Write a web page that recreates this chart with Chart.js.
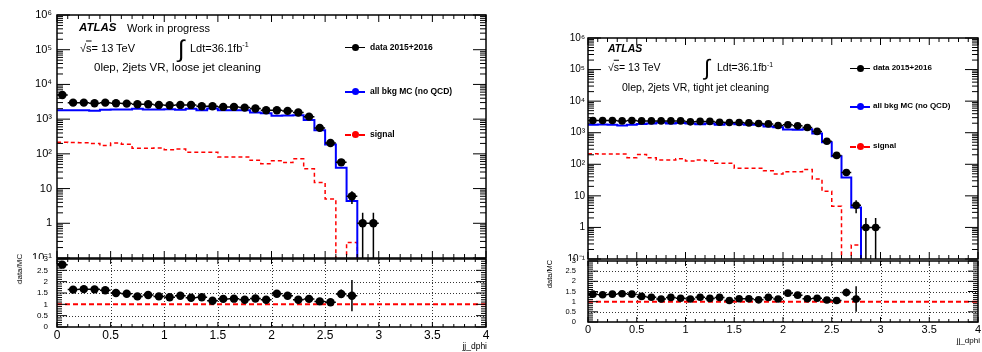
<!DOCTYPE html>
<html>
<head>
<meta charset="utf-8">
<title>jj_dphi</title>
<script src="https://cdn.jsdelivr.net/npm/chart.js@4.4.1/dist/chart.umd.min.js"></script>
<style>
  html, body { margin: 0; padding: 0; background: #fff; }
  body { position: relative; width: 982px; height: 352px; overflow: hidden; font-family: "Liberation Sans", Arial, Helvetica, sans-serif; color: #000; }
  canvas { position: absolute; left: 0; top: 0; }
  .t { position: absolute; white-space: nowrap; line-height: 1; transform: translateY(-50%); }
  .b { font-weight: bold; }
  .atlas { font-weight: bold; font-style: italic; }
  .rot { position: absolute; white-space: nowrap; line-height: 1; transform: translate(-50%, -50%) rotate(-90deg); }
  .ln { position: absolute; height: 0; }
  .dot { position: absolute; border-radius: 50%; }
  sup { font-size: 0.65em; vertical-align: 0.6em; line-height: 0; }
  .ov { text-decoration: overline; }
</style>
</head>
<body>
<canvas id="mainL" width="982" height="352"></canvas>
<canvas id="ratioL" width="982" height="352"></canvas>
<canvas id="mainR" width="982" height="352"></canvas>
<canvas id="ratioR" width="982" height="352"></canvas>

<!-- left pad: loose jet cleaning -->
<div class="t atlas" style="left:79px; top:28px; font-size:11.5px">ATLAS</div>
<div class="t" style="left:127px; top:28px; font-size:11px">Work in progress</div>
<div class="t" style="left:80px; top:48px; font-size:11px">√<span class="ov">s</span>= 13 TeV</div>
<div class="t" style="left:178px; top:49px; font-size:24px">∫</div>
<div class="t" style="left:190px; top:48px; font-size:11px">Ldt=36.1fb<sup>-1</sup></div>
<div class="t" style="left:94px; top:68px; font-size:11.5px">0lep, 2jets VR, loose jet cleaning</div>

<div class="ln" style="left:345px; top:46.5px; width:20px; border-top:1.5px solid #000"></div>
<div class="dot" style="left:351.5px; top:43.5px; width:7px; height:7px; background:#000"></div>
<div class="t b" style="left:370px; top:47px; font-size:8.5px">data 2015+2016</div>
<div class="ln" style="left:345px; top:90.5px; width:20px; border-top:2px solid #0000ff"></div>
<div class="dot" style="left:351.5px; top:87.5px; width:7px; height:7px; background:#0000ff"></div>
<div class="t b" style="left:370px; top:91px; font-size:8.5px">all bkg MC (no QCD)</div>
<div class="ln" style="left:345px; top:133.5px; width:20px; border-top:2px dashed #ff0000"></div>
<div class="dot" style="left:351.5px; top:130.5px; width:7px; height:7px; background:#ff0000"></div>
<div class="t b" style="left:370px; top:134px; font-size:8.5px">signal</div>

<div class="rot" style="left:20px; top:269px; font-size:8px">data/MC</div>
<div class="t" style="right:495px; top:346px; font-size:8.5px">jj_dphi</div>

<!-- right pad: tight jet cleaning -->
<div class="t atlas" style="left:608px; top:48px; font-size:10.5px">ATLAS</div>
<div class="t" style="left:608px; top:67px; font-size:10.5px">√<span class="ov">s</span>= 13 TeV</div>
<div class="t" style="left:704px; top:68px; font-size:22px">∫</div>
<div class="t" style="left:717px; top:67px; font-size:10.5px">Ldt=36.1fb<sup>-1</sup></div>
<div class="t" style="left:622px; top:87px; font-size:10.5px">0lep, 2jets VR, tight jet cleaning</div>

<div class="ln" style="left:850px; top:67.5px; width:20px; border-top:1.5px solid #000"></div>
<div class="dot" style="left:856.5px; top:64.5px; width:7px; height:7px; background:#000"></div>
<div class="t b" style="left:873px; top:68px; font-size:8px">data 2015+2016</div>
<div class="ln" style="left:850px; top:105.5px; width:20px; border-top:2px solid #0000ff"></div>
<div class="dot" style="left:856.5px; top:102.5px; width:7px; height:7px; background:#0000ff"></div>
<div class="t b" style="left:873px; top:106px; font-size:8px">all bkg MC (no QCD)</div>
<div class="ln" style="left:850px; top:145.5px; width:20px; border-top:2px dashed #ff0000"></div>
<div class="dot" style="left:856.5px; top:142.5px; width:7px; height:7px; background:#ff0000"></div>
<div class="t b" style="left:873px; top:146px; font-size:8px">signal</div>

<div class="rot" style="left:550px; top:274px; font-size:7.5px">data/MC</div>
<div class="t" style="right:2px; top:341px; font-size:8px">jj_dphi</div>

<script>
Chart.defaults.font.family = "'Liberation Sans', Arial, Helvetica, sans-serif";
Chart.defaults.color = '#000';

// binning of jj_dphi, 0.1 wide bins (only the first 30 are filled)
const binEdges = [0.0, 0.1, 0.2, 0.3, 0.4, 0.5, 0.6, 0.7, 0.8, 0.9, 1.0, 1.1, 1.2, 1.3, 1.4, 1.5,
                  1.6, 1.7, 1.8, 1.9, 2.0, 2.1, 2.2, 2.3, 2.4, 2.5, 2.6, 2.7, 2.8, 2.9, 3.0];
const binCenters = [0.05, 0.15, 0.25, 0.35, 0.45, 0.55, 0.65, 0.75, 0.85, 0.95, 1.05, 1.15, 1.25, 1.35, 1.45,
                    1.55, 1.65, 1.75, 1.85, 1.95, 2.05, 2.15, 2.25, 2.35, 2.45, 2.55, 2.65, 2.75, 2.85, 2.95];

const xTicks = [0, 0.5, 1, 1.5, 2, 2.5, 3, 3.5, 4];
const xTickLabels = ['0', '0.5', '1', '1.5', '2', '2.5', '3', '3.5', '4'];
const mainYTicks = [0.1, 1, 10, 100, 1000, 10000, 100000, 1000000];
const mainYTickLabels = ['10⁻¹', '1', '10', '10²', '10³', '10⁴', '10⁵', '10⁶'];
const ratioYTicks = [0, 0.5, 1, 1.5, 2, 2.5, 3];
const ratioYTickLabels = ['0', '0.5', '1', '1.5', '2', '2.5', '3'];
const ratioGridX = [0.5, 1, 1.5, 2, 2.5, 3, 3.5];
const ratioGridY = [0.5, 1.5, 2, 2.5];
const ratioRef = 1;

// loose jet cleaning
const looseData = [4950, 2990, 2990, 2870, 2990, 2870, 2800, 2680, 2680, 2570, 2510, 2570, 2570, 2350, 2350,
                   2250, 2250, 2150, 2020, 1810, 1810, 1730, 1560, 1180, 560, 205, 57, 6, 1, 1];
const looseDataErr = [70, 55, 55, 54, 55, 54, 53, 52, 52, 51, 50, 51, 51, 48, 48,
                      47, 47, 46, 45, 43, 43, 42, 40, 34, 24, 14, 7.5, 2.4, 1, 1];
const looseMC = [1800, 1815, 1815, 1740, 1850, 1910, 1910, 1990, 1900, 1900, 1920, 1860, 1990, 1790, 2030,
                 1815, 1800, 1790, 1560, 1490, 1260, 1270, 1290, 940, 480, 186, 40, 4.4, 0, 0];
const looseSignal = [215, 212, 210, 200, 173, 205, 188, 145, 145, 147, 132, 138, 112, 112, 112,
                     81, 81, 81, 65, 52, 63, 56, 72, 37, 15, 5, 0, 0.28, 0, 0];
const looseRatio = [2.75, 1.65, 1.67, 1.66, 1.62, 1.5, 1.47, 1.35, 1.41, 1.35, 1.31, 1.38, 1.29, 1.31,
                    1.16, 1.24, 1.25, 1.2, 1.26, 1.2, 1.47, 1.38, 1.2, 1.24, 1.13, 1.09, 1.46, 1.38];
const looseRatioErr = [0.06, 0.03, 0.03, 0.03, 0.03, 0.03, 0.03, 0.03, 0.03, 0.03, 0.03, 0.03, 0.03, 0.03,
                       0.03, 0.03, 0.03, 0.03, 0.03, 0.03, 0.04, 0.04, 0.04, 0.04, 0.06, 0.08, 0.19, 0.69];

// tight jet cleaning
const tightData = [2430, 2430, 2430, 2370, 2430, 2370, 2370, 2370, 2370, 2370, 2210, 2280, 2280, 2150, 2100,
                   2100, 2045, 1950, 1905, 1690, 1780, 1650, 1465, 1100, 536, 191, 55, 5, 1, 1];
const tightDataErr = [49, 49, 49, 49, 49, 49, 49, 49, 49, 49, 47, 48, 48, 46, 46,
                      46, 45, 44, 44, 41, 42, 41, 38, 33, 23, 14, 7.4, 2.2, 1, 1];
const tightMC = [1775, 1810, 1775, 1705, 1775, 1880, 1945, 2095, 1960, 2025, 1955, 1870, 1965, 1775, 1980,
                 1840, 1795, 1790, 1575, 1495, 1255, 1250, 1285, 940, 496, 180, 38, 4.3, 0, 0];
const tightSignal = [215, 212, 212, 210, 162, 205, 162, 136, 136, 150, 127, 136, 130, 107, 107,
                     75, 75, 75, 62, 49, 58, 58, 68, 34, 14, 4.7, 0, 0.28, 0, 0];
const tightRatio = [1.37, 1.34, 1.37, 1.39, 1.37, 1.26, 1.22, 1.13, 1.21, 1.17, 1.13, 1.22, 1.16, 1.21,
                    1.06, 1.14, 1.14, 1.09, 1.21, 1.13, 1.42, 1.32, 1.14, 1.17, 1.08, 1.06, 1.45, 1.13];
const tightRatioErr = [0.03, 0.03, 0.03, 0.03, 0.03, 0.03, 0.03, 0.03, 0.03, 0.03, 0.03, 0.03, 0.03, 0.03,
                       0.03, 0.03, 0.03, 0.03, 0.03, 0.03, 0.04, 0.04, 0.04, 0.04, 0.06, 0.08, 0.2, 0.63];

const FLOOR = 1e-3;   // empty bins go below the log axis
const AXW = 50;       // y axis box width
const AXH = 20;       // x axis box height (ratio pads)

function markers(xs, ys) {
    return ys.map(function (v, i) { return { x: xs[i], y: v }; });
}
function hBars(edges, ys) {
    var out = [];
    ys.forEach(function (v, i) {
        out.push({ x: edges[i], y: v }, { x: edges[i + 1], y: v }, { x: edges[i + 1], y: null });
    });
    return out;
}
function vBars(xs, ys, errs, floor) {
    var out = [];
    ys.forEach(function (v, i) {
        out.push({ x: xs[i], y: Math.max(v - errs[i], floor) }, { x: xs[i], y: v + errs[i] }, { x: xs[i], y: null });
    });
    return out;
}
// histogram outline: one point per bin low edge, closed at the last edge
function steps(edges, vals) {
    var pts = vals.map(function (v, i) { return { x: edges[i], y: v > 0 ? v : FLOOR }; });
    pts.push({ x: edges[vals.length], y: FLOOR });
    return pts;
}

// ROOT-like frame: box, inward ticks on all four sides, dotted grid for ratio pads
const rootFrame = {
    id: 'rootFrame',
    beforeDraw: function (chart, args, o) {
        if (!o.fill) return;
        var ctx = chart.ctx;
        ctx.save();
        ctx.fillStyle = '#fff';
        ctx.fillRect(o.fill[0], o.fill[1], o.fill[2], o.fill[3]);
        ctx.restore();
    },
    beforeDatasetsDraw: function (chart, args, o) {
        if (!o.grid) return;
        var ctx = chart.ctx, a = chart.chartArea, sx = chart.scales.x, sy = chart.scales.y;
        ctx.save();
        ctx.strokeStyle = '#000';
        ctx.lineWidth = 0.8;
        ctx.setLineDash([1, 2]);
        ctx.beginPath();
        ratioGridX.forEach(function (v) {
            var p = Math.round(sx.getPixelForValue(v)) + 0.5;
            ctx.moveTo(p, a.top); ctx.lineTo(p, a.bottom);
        });
        ratioGridY.forEach(function (v) {
            var p = Math.round(sy.getPixelForValue(v)) + 0.5;
            ctx.moveTo(a.left, p); ctx.lineTo(a.right, p);
        });
        ctx.stroke();
        ctx.restore();
    },
    afterDatasetsDraw: function (chart, args, o) {
        var ctx = chart.ctx, a = chart.chartArea, sx = chart.scales.x, sy = chart.scales.y;
        ctx.save();
        ctx.strokeStyle = '#000';
        ctx.lineWidth = 1;
        ctx.beginPath();
        function tickX(v, len) {
            var p = sx.getPixelForValue(v);
            ctx.moveTo(p, a.bottom); ctx.lineTo(p, a.bottom - len);
            ctx.moveTo(p, a.top); ctx.lineTo(p, a.top + len);
        }
        function tickY(v, len) {
            var p = sy.getPixelForValue(v);
            ctx.moveTo(a.left, p); ctx.lineTo(a.left + len, p);
            ctx.moveTo(a.right, p); ctx.lineTo(a.right - len, p);
        }
        for (var k = 0; k <= 40; k++) tickX(k / 10, k % 5 === 0 ? o.xMaj : o.xMin);
        if (o.log) {
            mainYTicks.forEach(function (d, i) {
                tickY(d, o.yMaj);
                if (i < mainYTicks.length - 1) for (var m = 2; m <= 9; m++) tickY(m * d, o.yMin);
            });
        } else {
            for (var j = 0; j <= 30; j++) tickY(j / 10, j % 5 === 0 ? o.yMaj : o.yMin);
        }
        ctx.stroke();
        ctx.lineWidth = 1.5;
        ctx.strokeRect(a.left, a.top, a.right - a.left, a.bottom - a.top);
        ctx.restore();
    }
};

function mainChart(id, area, data, dataErr, mc, signal, st) {
    return new Chart(document.getElementById(id), {
        type: 'line',
        data: {
            datasets: [
                { label: 'data 2015+2016', data: markers(binCenters, data), showLine: false,
                  pointRadius: st.r, pointBackgroundColor: '#000', pointBorderWidth: 0 },
                { label: 'data xerr', data: hBars(binEdges, data), borderColor: '#000', borderWidth: 1.5,
                  pointRadius: 0, spanGaps: false },
                { label: 'data yerr', data: vBars(binCenters, data, dataErr, FLOOR), borderColor: '#000',
                  borderWidth: 1.5, pointRadius: 0, spanGaps: false },
                { label: 'all bkg MC (no QCD)', data: steps(binEdges, mc), stepped: 'before',
                  borderColor: '#0000ff', borderWidth: 2, pointRadius: 0 },
                { label: 'signal', data: steps(binEdges, signal), stepped: 'before',
                  borderColor: '#ff0000', borderWidth: 1.5, borderDash: [4, 3], pointRadius: 0 }
            ]
        },
        options: {
            responsive: false, animation: false, events: [],
            layout: { padding: { left: area.left - AXW, top: area.top, right: 982 - area.right, bottom: 352 - area.bottom } },
            plugins: {
                legend: { display: false }, tooltip: { enabled: false },
                rootFrame: { log: true, xMaj: 7, xMin: 4, yMaj: 13, yMin: 6 }
            },
            scales: {
                x: { type: 'linear', min: 0, max: 4, display: false },
                y: {
                    type: 'logarithmic', min: 0.1, max: 1e6,
                    afterBuildTicks: function (s) { s.ticks = mainYTicks.map(function (v) { return { value: v }; }); },
                    afterFit: function (s) { s.width = AXW; s.paddingTop = 0; s.paddingBottom = 0; },
                    grid: { display: false, drawTicks: false },
                    border: { display: false },
                    ticks: {
                        autoSkip: false, padding: st.yPad, color: '#000', font: { size: st.yFont },
                        callback: function (v, i) { return mainYTickLabels[i]; }
                    }
                }
            }
        },
        plugins: [rootFrame]
    });
}

function ratioChart(id, area, ratio, ratioErr, st) {
    var n = ratio.length;
    return new Chart(document.getElementById(id), {
        type: 'line',
        data: {
            datasets: [
                { label: 'data/MC', data: markers(binCenters.slice(0, n), ratio), showLine: false,
                  pointRadius: st.r, pointBackgroundColor: '#000', pointBorderWidth: 0 },
                { label: 'xerr', data: hBars(binEdges, ratio), borderColor: '#000', borderWidth: 1.5,
                  pointRadius: 0, spanGaps: false },
                { label: 'yerr', data: vBars(binCenters, ratio, ratioErr, -1), borderColor: '#000',
                  borderWidth: 1.5, pointRadius: 0, spanGaps: false },
                { label: 'ref', data: [{ x: 0, y: ratioRef }, { x: 4, y: ratioRef }], borderColor: '#ff0000',
                  borderWidth: 2, borderDash: [5, 3], pointRadius: 0 }
            ]
        },
        options: {
            responsive: false, animation: false, events: [],
            layout: { padding: { left: area.left - AXW, top: area.top, right: 982 - area.right, bottom: 352 - area.bottom - AXH } },
            plugins: {
                legend: { display: false }, tooltip: { enabled: false },
                rootFrame: { log: false, grid: true, fill: st.fill, xMaj: 5, xMin: 3, yMaj: 10, yMin: 5 }
            },
            scales: {
                x: {
                    type: 'linear', min: 0, max: 4,
                    afterBuildTicks: function (s) { s.ticks = xTicks.map(function (v) { return { value: v }; }); },
                    afterFit: function (s) { s.height = AXH; s.paddingLeft = 0; s.paddingRight = 0; },
                    grid: { display: false, drawTicks: false },
                    border: { display: false },
                    ticks: {
                        autoSkip: false, maxRotation: 0, padding: st.xPad, color: '#000', font: { size: st.xFont },
                        callback: function (v, i) { return xTickLabels[i]; }
                    }
                },
                y: {
                    type: 'linear', min: 0, max: 3,
                    afterBuildTicks: function (s) { s.ticks = ratioYTicks.map(function (v) { return { value: v }; }); },
                    afterFit: function (s) { s.width = AXW; s.paddingTop = 0; s.paddingBottom = 0; },
                    grid: { display: false, drawTicks: false },
                    border: { display: false },
                    ticks: {
                        autoSkip: false, padding: st.yPad, color: '#000', font: { size: st.yFont },
                        callback: function (v, i) { return ratioYTickLabels[i]; }
                    }
                }
            }
        },
        plugins: [rootFrame]
    });
}

mainChart('mainL', { left: 57, top: 15, right: 486, bottom: 258 },
          looseData, looseDataErr, looseMC, looseSignal, { r: 4.2, yPad: 5, yFont: 11 });
ratioChart('ratioL', { left: 57, top: 259, right: 486, bottom: 327 },
           looseRatio, looseRatioErr, { r: 4.2, yPad: 9, yFont: 8, xPad: 1, xFont: 12, fill: [0, 259, 492, 93] });
mainChart('mainR', { left: 588, top: 38, right: 978, bottom: 259 },
          tightData, tightDataErr, tightMC, tightSignal, { r: 3.8, yPad: 3, yFont: 10 });
ratioChart('ratioR', { left: 588, top: 261, right: 978, bottom: 322 },
           tightRatio, tightRatioErr, { r: 3.8, yPad: 12, yFont: 7.5, xPad: 1, xFont: 11, fill: [530, 261, 452, 91] });
</script>
</body>
</html>
